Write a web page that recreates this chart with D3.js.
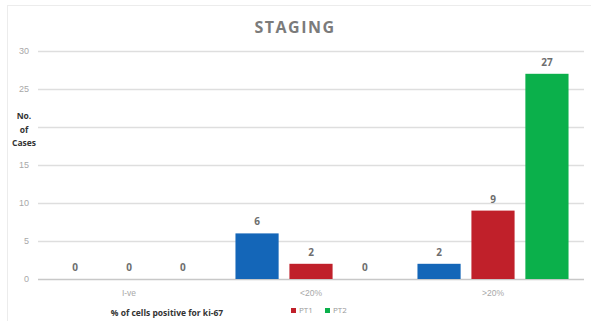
<!DOCTYPE html>
<html>
<head>
<meta charset="utf-8">
<script src="https://cdn.jsdelivr.net/npm/d3@7"></script>
<style>
  body { margin: 0; background: #fff; }
  svg { display: block; font-family: "Open Sans", sans-serif; }
</style>
</head>
<body>
<div id="chart"></div>
<script>
(function () {

  // data
  const categories = ["I-ve", "<20%", ">20%"]
  const seriesNames = ["PT0", "PT1", "PT2"]
  const pt0 = [0, 6, 2]
  const pt1 = [0, 2, 9]
  const pt2 = [0, 0, 27]
  const legendNames = ["PT1", "PT2"]
  const yTicks = [0, 5, 10, 15, 20, 25, 30]

  const colors = { PT0: "#1466b8", PT1: "#c0202a", PT2: "#0bb04b" }
  const values = { PT0: pt0, PT1: pt1, PT2: pt2 }

  const W = 591, H = 321
  const margin = { top: 51, right: 7, bottom: 42, left: 38 }
  const width = W - margin.left - margin.right
  const height = H - margin.top - margin.bottom

  const root = d3.select("#chart").append("svg")
      .attr("width", W)
      .attr("height", H)

  // faint frame
  root.append("rect")
    .attr("x", 7.5).attr("y", 5.5)
    .attr("width", W - 6).attr("height", H)
    .attr("fill", "none")
    .attr("stroke", "#ececec")

  const svg = root.append("g")
      .attr("transform", "translate(" + margin.left + "," + margin.top + ")")

  const x0 = d3.scaleBand()
    .domain(categories)
    .range([0, width])
    .paddingInner(0.17)
    .paddingOuter(0.085)

  const x1 = d3.scaleBand()
    .domain(seriesNames)
    .range([0, x0.bandwidth()])
    .paddingInner(0.2)

  const y = d3.scaleLinear()
    .domain([0, 30])
    .range([height, 0])

  // gridlines + y labels (the 20 label is hidden under the axis title)
  const yAxis = d3.axisLeft(y)
    .tickValues(yTicks)
    .tickFormat(d => d === 20 ? "" : d)
    .tickSize(-width)
    .tickPadding(9)

  svg.append("g")
    .attr("class", "axis y-axis")
    .call(yAxis)
    .call(g => g.select(".domain").remove())
    .call(g => g.selectAll(".tick line")
      .attr("stroke", d => d === 0 ? "#c8c8c8" : "#dedede")
      .attr("stroke-width", 1.3))
    .call(g => g.selectAll(".tick text")
      .attr("fill", "#a8a8a8")
      .attr("font-size", 9))

  // bars
  const groups = svg.selectAll(".grp")
    .data(categories)
    .join("g")
    .attr("class", "grp")
    .attr("transform", d => "translate(" + x0(d) + ",0)")

  groups.selectAll("rect")
    .data((c, i) => seriesNames.map(s => ({ s: s, v: values[s][i] })))
    .join("rect")
    .attr("x", d => x1(d.s))
    .attr("y", d => y(d.v))
    .attr("width", x1.bandwidth())
    .attr("height", d => height - y(d.v))
    .attr("fill", d => colors[d.s])

  groups.selectAll("text.val")
    .data((c, i) => seriesNames.map(s => ({ s: s, v: values[s][i] })))
    .join("text")
    .attr("class", "val")
    .attr("x", d => x1(d.s) + x1.bandwidth() / 2)
    .attr("y", d => y(d.v) - 8)
    .attr("text-anchor", "middle")
    .attr("font-size", 10)
    .attr("font-weight", "bold")
    .attr("fill", "#6e6e6e")
    .text(d => d.v)

  // x category labels
  const xAxis = d3.axisBottom(x0).tickSize(0).tickPadding(11)
  svg.append("g")
    .attr("class", "axis x-axis")
    .attr("transform", "translate(0," + height + ")")
    .call(xAxis)
    .call(g => g.select(".domain").remove())
    .call(g => g.selectAll(".tick text")
      .attr("fill", "#a8a8a8")
      .attr("font-size", 8.5))

  // title
  root.append("text")
    .attr("x", 295)
    .attr("y", 33)
    .attr("text-anchor", "middle")
    .attr("font-size", 16)
    .attr("font-weight", "bold")
    .attr("letter-spacing", 1.5)
    .attr("fill", "#7b7b7b")
    .text("STAGING")

  // y title
  const yt = root.append("text")
    .attr("x", 24)
    .attr("text-anchor", "middle")
    .attr("font-size", 8.5)
    .attr("font-weight", "bold")
    .attr("fill", "#333")
  ;["No.", "of", "Cases"].forEach((t, i) => {
    yt.append("tspan").attr("x", 24).attr("y", 119 + i * 13.5).text(t)
  })

  // x title
  root.append("text")
    .attr("x", 167)
    .attr("y", 316)
    .attr("text-anchor", "middle")
    .attr("font-size", 8.5)
    .attr("font-weight", "bold")
    .attr("fill", "#333")
    .text("% of cells positive for ki-67")

  // legend
  const leg = root.selectAll(".leg")
    .data(legendNames)
    .join("g")
    .attr("class", "leg")
    .attr("transform", (d, i) => "translate(" + (291 + i * 34) + ",313)")

  leg.append("rect")
    .attr("x", 0).attr("y", -5)
    .attr("width", 5).attr("height", 5)
    .attr("fill", d => colors[d])

  leg.append("text")
    .attr("x", 8)
    .attr("y", 0)
    .attr("font-size", 8)
    .attr("fill", "#999")
    .text(d => d)

})();
</script>
</body>
</html>
